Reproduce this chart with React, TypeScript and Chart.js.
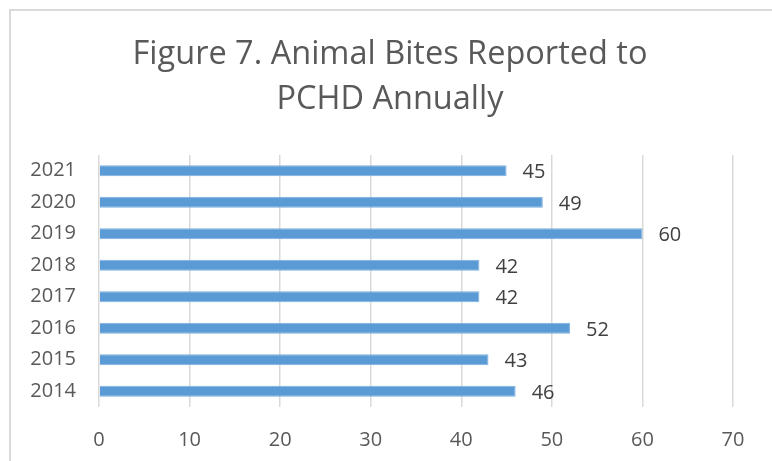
import React, { useEffect, useRef } from "react";
import { Chart, registerables } from "chart.js";

Chart.register(...registerables);

const categories = ["2014", "2015", "2016", "2017", "2018", "2019", "2020", "2021"];
const bites = [46, 43, 52, 42, 42, 60, 49, 45];
const xTicks = [0, 10, 20, 30, 40, 50, 60, 70];
const titleLines = ["Figure 7. Animal Bites Reported to", "PCHD Annually"];

const FONT = "'Open Sans', 'DejaVu Sans', sans-serif";

const valueLabels = {
  id: "valueLabels",
  afterDatasetsDraw(chart: any) {
    const ctx = chart.ctx;
    const meta = chart.getDatasetMeta(0);
    ctx.save();
    ctx.fillStyle = "#404040";
    ctx.font = `20px ${FONT}`;
    ctx.textAlign = "left";
    ctx.textBaseline = "middle";
    meta.data.forEach((bar: any, i: number) => {
      ctx.fillText(String(bites[i]), bar.x + 16, bar.y + 2);
    });
    ctx.restore();
  },
};

const centeredTitle = {
  id: "centeredTitle",
  afterDraw(chart: any) {
    const ctx = chart.ctx;
    ctx.save();
    ctx.fillStyle = "#595959";
    ctx.font = `32.5px ${FONT}`;
    ctx.textAlign = "center";
    ctx.textBaseline = "middle";
    const cx = chart.width / 2 + 4;
    titleLines.forEach((line, i) => {
      ctx.fillText(line, cx, 55 + i * 45);
    });
    ctx.restore();
  },
};

export default function App() {
  const ref = useRef<HTMLCanvasElement>(null);
  useEffect(() => {
    if (!ref.current) return;
    const chart = new Chart(ref.current, {
      type: "bar",
      data: {
        labels: categories,
        datasets: [
          {
            data: bites,
            backgroundColor: "#5B9BD5",
            borderColor: "#7DAFE0",
            borderWidth: 1,
            categoryPercentage: 1,
            barPercentage: 0.35,
          },
        ],
      },
      options: {
        indexAxis: "y",
        animation: false,
        responsive: false,
        maintainAspectRatio: false,
        layout: { padding: { left: 0, right: 39, top: 155, bottom: 0 } },
        plugins: {
          legend: { display: false },
          tooltip: { enabled: false },
          title: { display: false },
        },
        scales: {
          x: {
            min: 0,
            max: 70,
            afterBuildTicks: (scale: any) => {
              scale.ticks = xTicks.map((v) => ({ value: v }));
            },
            grid: { color: "#d9d9d9", lineWidth: 1.5, drawTicks: false },
            border: { display: false },
            ticks: { color: "#595959", font: { family: FONT, size: 20 }, padding: 21 },
            afterFit: (scale: any) => {
              scale.height = 54;
            },
          },
          y: {
            reverse: true,
            grid: { display: false, drawTicks: false },
            border: { display: false },
            ticks: { color: "#595959", font: { family: FONT, size: 20 }, padding: 23 },
            afterFit: (scale: any) => {
              scale.width = 99;
            },
          },
        },
      },
      plugins: [valueLabels, centeredTitle],
    });
    return () => chart.destroy();
  }, []);

  return (
    <div style={{ position: "absolute", left: 0, top: 0, width: 772, height: 461, overflow: "hidden", background: "#fff" }}>
      <div
        style={{
          position: "absolute",
          left: 9,
          top: 9,
          width: 800,
          height: 500,
          border: "2px solid #d9d9d9",
        }}
      />
      <canvas ref={ref} width={772} height={461} style={{ position: "absolute", left: 0, top: 0, width: 772, height: 461 }} />
    </div>
  );
}
